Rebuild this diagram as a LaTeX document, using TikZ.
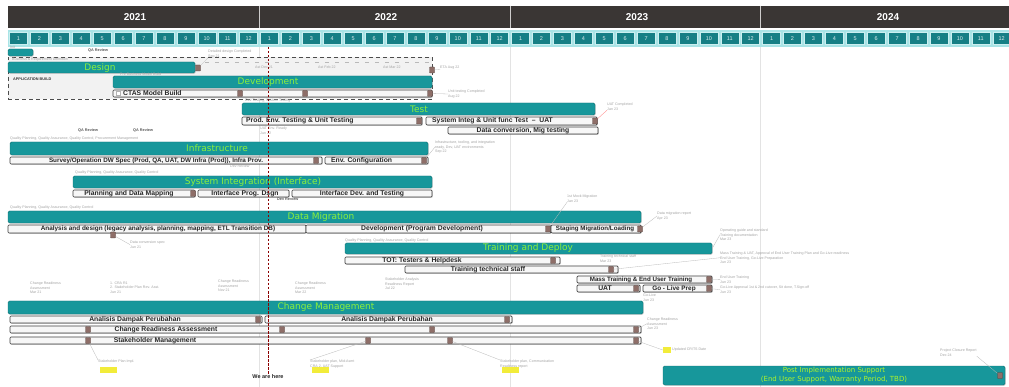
\documentclass[tikz,border=0pt]{standalone}
\usepackage{fontspec}
\setmainfont{Liberation Sans}
\setsansfont{Liberation Sans}
\newfontfamily\barfont{DejaVu Sans}
\usetikzlibrary{fit,calc,shadows}
\definecolor{teal1}{HTML}{17979B}
\definecolor{hdr}{HTML}{3A3634}
\definecolor{mon}{HTML}{167F85}
\definecolor{monbg}{HTML}{A9E4E6}
\definecolor{lgreen}{HTML}{8CF03C}
\definecolor{mk}{HTML}{8E6E68}
\definecolor{notec}{HTML}{A3A3A3}
\definecolor{hilite}{HTML}{F2EC3A}
\newcommand\gbar[5]{\node[barsty,fit={(#2,#3) (#4,#5)}] (#1) {};}
\newcommand\sbar[5]{\node[substy,fit={(#2,#3) (#4,#5)}] (#1) {};}
\begin{document}
\begin{tikzpicture}[x=1pt,y=-1pt,
  barsty/.style={fill=teal1, draw=teal1!75!black, line width=0.4pt, rounded corners=1.5pt, inner sep=0pt,
     drop shadow={shadow xshift=0.8pt, shadow yshift=-0.8pt, opacity=0.3}},
  bartext/.style={text=lgreen, font=\barfont\fontsize{9}{10}\selectfont, inner sep=0pt},
  substy/.style={fill=gray!6, draw=gray!50!black, line width=0.7pt, rounded corners=1pt, inner sep=0pt,
     drop shadow={shadow xshift=0.8pt, shadow yshift=-0.8pt, opacity=0.35}},
  subtext/.style={font=\bfseries\fontsize{6.8}{7}\selectfont, text=black!85, inner sep=0pt},
  ms/.style={fill=mk, draw=mk!60!black, line width=0.3pt, minimum width=5pt, minimum height=6pt, inner sep=0pt, rounded corners=0.6pt},
  note/.style={font=\fontsize{3.6}{4.2}\selectfont, text=notec, align=left, anchor=north west, inner sep=0pt},
  dnote/.style={font=\bfseries\fontsize{3.8}{4.4}\selectfont, text=gray!70!black, anchor=north west, inner sep=0pt},
  callout/.style={draw=gray!55, line width=0.3pt},
  hl/.style={fill=hilite, inner sep=0pt, minimum width=17pt, minimum height=6pt},
  monbox/.style={fill=mon, draw=monbg!60!white, line width=0.4pt, minimum width=18pt, minimum height=12pt, inner sep=0pt,
     text=white!85!mon, font=\fontsize{5.5}{6}\selectfont}]
\useasboundingbox[fill=white] (0,0) rectangle (1009,387);

% ---------- header ----------
\node[fit={(8,6) (1009,28)}, fill=hdr, inner sep=0pt] (hdr) {};
\foreach \xx in {259,510,760} \draw[white!75!hdr, line width=0.6pt] (\xx,6) -- (\xx,28);
\node[text=white, font=\bfseries\fontsize{10}{11}\selectfont] (y21) at (135,17) {2021};
\node[text=white, font=\bfseries\fontsize{10}{11}\selectfont] (y22) at (386,17) {2022};
\node[text=white, font=\bfseries\fontsize{10}{11}\selectfont] (y23) at (637,17) {2023};
\node[text=white, font=\bfseries\fontsize{10}{11}\selectfont] (y24) at (888,17) {2024};
\node[fit={(8,30) (1009,47)}, fill=monbg, inner sep=0pt] (mrow) {};
\foreach \i in {0,...,47} {
  \pgfmathtruncatemacro\m{mod(\i,12)+1}
  \node[monbox] (m\i) at (8+\i*20.92+10.46, 38.5) {\m};
}
\foreach \xx in {259,510,760} \draw[gray!22, line width=0.6pt] (\xx,47) -- (\xx,387);

% ---------- application build ----------
\node[fit={(8,57) (432,99)}, draw=gray!60!black, dashed, dash pattern=on 4pt off 3pt, line width=0.8pt, fill=gray!10, inner sep=0pt] (appbox) {};
\gbar{init}{8}{49}{33}{56}
\node[note] (n0) at (10,45.5) {Init};
\node[dnote] (n1) at (88,49) {QA Review};
\node[note] (n2) at (208,50) {Detailed design Completed\\Sep 21};
\node[note] (n3) at (12,57.5) {Business \& Requirement Definition};
\gbar{design}{8}{62}{195}{73}
\node[bartext] (designL) at (100,68) {Design};
\node[ms] (dm1) at (198,68) {};
\draw[callout] (dm1) -- (n2.south west);
\foreach \xx in {205,215,...,430} \draw[gray!55, line width=0.5pt] (\xx,62.5) -- (\xx+4,62.5);
\node[note] (n4) at (255,66) {Ast Dec 21};
\node[note] (n5) at (318,66) {Ast Feb 22};
\node[note] (n6) at (383,66) {Ast Mar 22};
\node[dnote, text=black!80] (appL) at (13,78) {APPLICATION BUILD};
\node[note] (n7) at (120,73) {Pre Business Model Build};
\gbar{dev}{113}{76}{432}{88}
\node[bartext] (devL) at (268,82) {Development};
\node[note] (n8) at (440,66) {ETA Aug 22\\};
\node[ms] (dm2) at (432,70) {};
\draw[callout] (dm2) -- (n8.west);
\sbar{ctas}{113}{90}{432}{97}
\node[draw=gray!60, fill=white, minimum size=4pt, inner sep=0pt] (ctasbox) at (118,93.5) {};
\node[subtext, anchor=west] (ctasL) at (123,93.5) {CTAS Model Build};
\node[ms] (cm1) at (240,93.5) {};
\node[ms] (cm2) at (305,93.5) {};
\node[ms] (cm3) at (430,93.5) {};
\node[note] (n9) at (448,90) {Unit testing Completed\\Aug 22};
\draw[callout] (cm3) -- (n9.west);

% ---------- test ----------
\node[note] (n10) at (245,99) {Dev Testing, System Testing};
\gbar{test}{242}{103}{595}{115}
\node[bartext] (testL) at (419,109) {Test};
\sbar{t1}{242}{117}{422}{125}
\node[subtext, anchor=west] (t1L) at (246,121) {Prod. Env. Testing \& Unit Testing};
\node[ms] (tm1) at (419,121) {};
\sbar{t2}{426}{117}{597}{125}
\node[subtext, anchor=west] (t2L) at (432,121) {System Integ \& Unit func Test \ -- \ UAT};
\node[ms] (tm2) at (595,121) {};
\sbar{t3}{448}{127}{598}{134}
\node[subtext] (t3L) at (523,130.5) {Data conversion, Mig testing};
\node[note] (n11) at (607,103) {UAT Completed\\Jan 23};
\draw[red!45, line width=0.35pt] (tm2) -- (n11.south west);
\node[note] (n12) at (260,127) {UAT Env. Ready\\Jun 22};

% ---------- infrastructure ----------
\node[dnote] (n13) at (78,129) {QA Review};
\node[dnote] (n14) at (133,129) {QA Review};
\node[note] (n15) at (10,137) {Quality Planning, Quality Assurance, Quality Control, Procurement Management};
\gbar{infra}{10}{142}{428}{155}
\node[bartext] (infraL) at (217,148.5) {Infrastructure};
\sbar{i1}{10}{157}{322}{164}
\node[subtext, font=\bfseries\fontsize{6.3}{7}\selectfont] (i1L) at (156,160.5) {Survey/Operation DW Spec (Prod, QA, UAT, DW Infra (Prod)), Infra Prov.};
\node[ms] (im1) at (316,160.5) {};
\sbar{i2}{325}{157}{428}{164}
\node[subtext, anchor=west] (i2L) at (331,160.5) {Env. Configuration};
\node[ms] (im2) at (424,160.5) {};
\node[note] (n16) at (435,141) {Infrastructure, tooling, and integration\\ready, Dev, UAT environments\\Sep 22};
\draw[callout] (im2) -- (n16.west);
\node[note] (n17) at (230,165) {Dev Review};

% ---------- system integration ----------
\node[note] (n18) at (75,171) {Quality Planning, Quality Assurance, Quality Control};
\gbar{si}{73}{176}{432}{188}
\node[bartext] (siL) at (253,182) {System Integration (Interface)};
\sbar{s1}{73}{190}{195}{197}
\node[subtext] (s1L) at (129,193.5) {Planning and Data Mapping};
\node[ms] (sm1) at (193,193.5) {};
\sbar{s2}{198}{190}{289}{197}
\node[subtext] (s2L) at (245,193.5) {Interface Prog. Dsgn};
\node[ms, fill=gray!10, draw=gray!60] (sm2) at (295,193.5) {};
\sbar{s3}{292}{190}{432}{197}
\node[subtext] (s3L) at (362,193.5) {Interface Dev. and Testing};
\node[dnote] (n19) at (277,198) {Dev Review};
\node[note] (n20) at (567,195) {1st Mock Migration\\Jan 23};

% ---------- data migration ----------
\node[note] (n21) at (10,206) {Quality Planning, Quality Assurance, Quality Control};
\gbar{dm}{8}{211}{641}{223}
\node[bartext] (dmL) at (321,217) {Data Migration};
\sbar{d1}{8}{225}{306}{233}
\node[subtext, font=\bfseries\fontsize{6.4}{7}\selectfont] (d1L) at (158,229) {Analysis and design (legacy analysis, planning, mapping, ETL Transition DB)};
\sbar{d2}{306}{225}{551}{233}
\node[subtext] (d2L) at (422,229) {Development (Program Development)};
\node[ms] (dmm1) at (548,229) {};
\sbar{d3}{551}{225}{641}{233}
\node[subtext, font=\bfseries\fontsize{6.2}{7}\selectfont] (d3L) at (595,229) {Staging Migration/Loading};
\node[ms] (dmm2) at (640,229) {};
\node[note] (n22) at (657,212) {Data migration report\\Apr 23};
\draw[callout] (dmm2) -- (n22.west);
\draw[callout] (dmm1) -- (n20.south west);
\node[ms] (dmm0) at (113,235) {};
\node[note] (n23) at (130,241) {Data conversion spec\\Jun 21};
\draw[callout] (dmm0) -- (n23.west);

% ---------- training and deploy ----------
\node[note] (n24) at (345,239) {Quality Planning, Quality Assurance, Quality Control};
\gbar{tr}{345}{243}{712}{254}
\node[bartext] (trL) at (528,248.5) {Training and Deploy};
\sbar{tr1}{345}{257}{560}{264}
\node[subtext] (tr1L) at (422,260.5) {TOT: Testers \& Helpdesk};
\node[ms] (trm1) at (553,260.5) {};
\sbar{tr2}{405}{266}{618}{273}
\node[subtext] (tr2L) at (488,269.5) {Training technical staff};
\node[ms] (trm2) at (611,269.5) {};
\sbar{tr3}{577}{276}{712}{283}
\node[subtext, font=\bfseries\fontsize{6.2}{7}\selectfont] (tr3L) at (641,279.5) {Mass Training \& End User Training};
\node[ms] (trm3) at (709,279.5) {};
\sbar{tr4}{577}{285}{640}{292}
\node[subtext] (tr4L) at (605,288.5) {UAT};
\node[ms] (trm4) at (636,288.5) {};
\sbar{tr5}{643}{285}{712}{292}
\node[subtext, font=\bfseries\fontsize{6.4}{7}\selectfont] (tr5L) at (674,288.5) {Go - Live Prep};
\node[ms] (trm5) at (709,288.5) {};
\node[note] (n25) at (720,229) {Operating guide and standard\\Training documentation\\Mar 23};
\draw[callout] (tr.east) -- (n25.west);
\node[note] (n26) at (720,252) {Mass Training \& UAT, Approval of End User Training Plan and Go-Live readiness\\End User Training, Go-Live Preparation\\Jun 23};
\draw[callout] (trm2) -- (n26.west);
\node[note] (n27) at (720,276) {End User Training\\Jun 23};
\draw[callout] (trm3) -- (n27.west);
\node[note] (n28) at (720,286) {Go-Live Approval 1st \& 2nd cutover, Sit done, T.Sign-off\\Jun 23};
\draw[callout] (trm5) -- (n28.west);
\node[note] (n29) at (643,294) {Go-Live\\Jun 23};
\node[note] (n29b) at (600,255) {Training technical staff\\Mar 23};

% ---------- change management ----------
\node[note] (n30) at (30,282) {Change Readiness\\Assessment\\Mar 21};
\node[note] (n31) at (110,282) {1. CRA R1\\2. Stakeholder Plan Rev. Asst.\\Jun 21};
\node[note] (n32) at (218,280) {Change Readiness\\Assessment\\Nov 21};
\node[note] (n33) at (295,282) {Change Readiness\\Assessment\\Mar 22};
\node[note] (n34) at (385,278) {Stakeholder Analysis\\Readiness Report\\Jul 22};
\gbar{cm}{8}{301}{643}{314}
\node[bartext] (cmL) at (326,307.5) {Change Management};
\sbar{c1}{10}{316}{262}{323}
\node[subtext] (c1L) at (135,319.5) {Analisis Dampak Perubahan};
\node[ms] (cm1a) at (258,319.5) {};
\sbar{c1b}{265}{316}{512}{323}
\node[subtext] (c1bL) at (387,319.5) {Analisis Dampak Perubahan};
\node[ms] (cm1b) at (507,319.5) {};
\sbar{c2}{10}{326}{641}{333}
\node[subtext] (c2L) at (166,329.5) {Change Readiness Assessment};
\node[ms] (c2a) at (88,329.5) {};
\node[ms] (c2b) at (282,329.5) {};
\node[ms] (c2c) at (432,329.5) {};
\node[ms] (c2d) at (636,329.5) {};
\sbar{c3}{10}{337}{641}{344}
\node[subtext] (c3L) at (155,340.5) {Stakeholder Management};
\node[ms] (c3a) at (88,340.5) {};
\node[ms] (c3b) at (368,340.5) {};
\node[ms] (c3c) at (450,340.5) {};
\node[ms] (c3d) at (636,340.5) {};
\node[note] (n35) at (647,318) {Change Readiness\\Assessment\\Jun 23};
\draw[callout] (c2d) -- (n35.west);

% ---------- below ----------
\node[note] (n36) at (98,360) {Stakeholder Plan Impl.\\};
\node[hl] (h1) at (108,369.5) {};
\draw[callout] (c3a) -- (n36.north west);
\node[note] (n37) at (310,360) {Stakeholder plan, Mid-Asmt\\CRA 2, UAT Support};
\node[hl] (h2) at (320,369.5) {};
\draw[callout] (c3b) -- (n37.north west);
\node[note] (n38) at (500,360) {Stakeholder plan, Communication\\Readiness report};
\node[hl] (h3) at (510,369.5) {};
\draw[callout] (c3c) -- (n38.north west);
\node[hl, minimum width=8pt] (h4) at (667,350) {};
\node[note] (n39) at (672,348) {Updated CR/TS Date};
\draw[callout] (c3d) -- (h4.west);

% ---------- we are here ----------
\coordinate (nowtop) at (268,47);
\node[font=\bfseries\fontsize{5.5}{6}\selectfont, text=black!85, inner sep=1pt] (we) at (268,377) {We are here};
\draw[red!55!black, dashed, dash pattern=on 2.5pt off 1.5pt, line width=0.7pt] (nowtop) -- (we.north);

% ---------- post implementation ----------
\gbar{post}{663}{366}{1005}{385}
\node[text=lgreen!70!yellow, font=\barfont\fontsize{7}{8}\selectfont, inner sep=0pt] (postL1) at (834,371) {Post Implementation Support};
\node[text=lgreen!70!yellow, font=\barfont\fontsize{7}{8}\selectfont, inner sep=0pt] (postL2) at (834,380) {(End User Support, Warranty Period, TBD)};
\node[ms] (pm1) at (1000,375.5) {};
\node[note] (n40) at (940,349) {Project Closure Report\\Dec 24};
\draw[callout] (pm1) -- (n40.south east);
\end{tikzpicture}
\end{document}
